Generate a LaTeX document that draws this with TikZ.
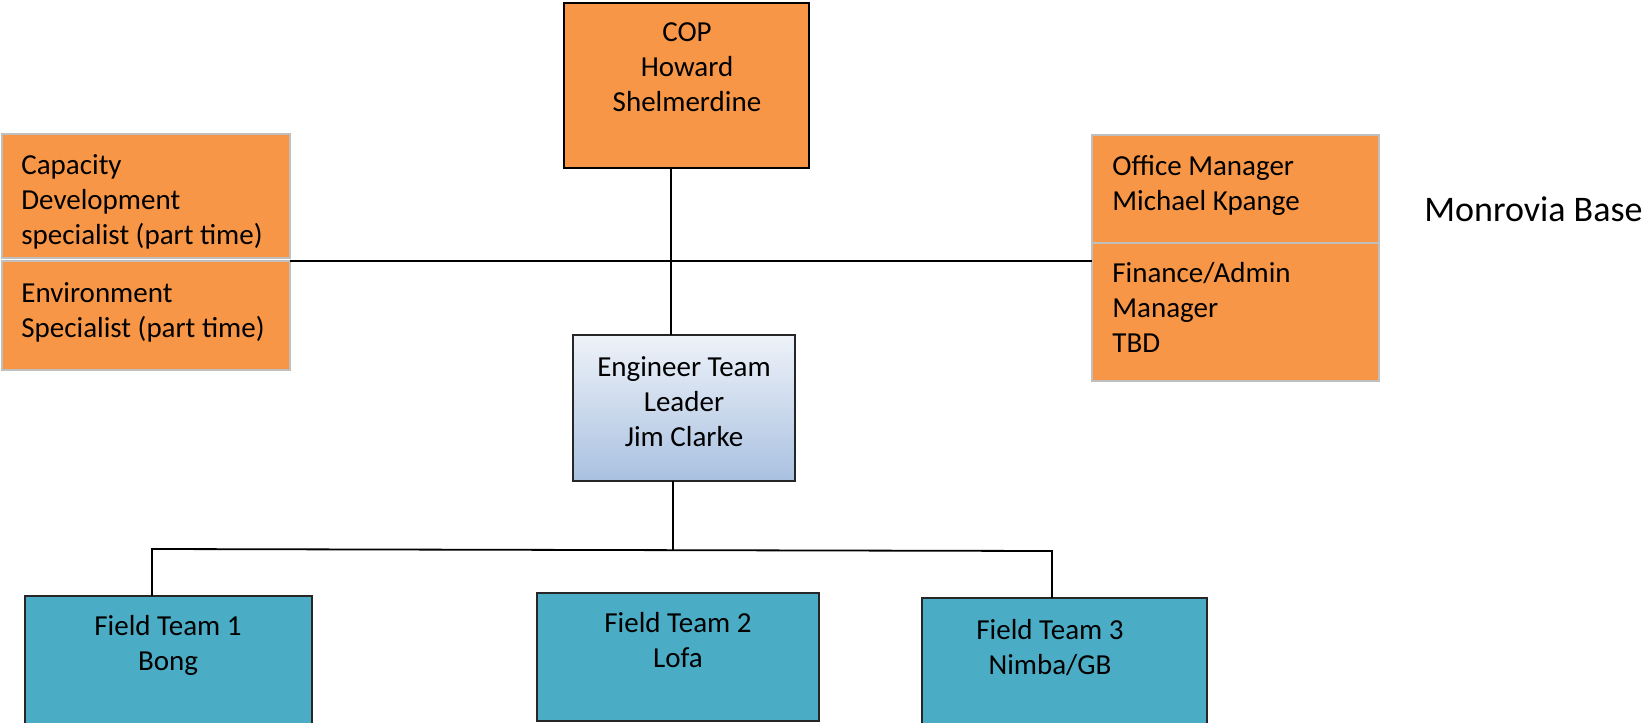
\documentclass[tikz,border=0pt]{standalone}
\usepackage{fontspec}
\setmainfont{Carlito}
\usetikzlibrary{fit}
\definecolor{orangefill}{HTML}{F79646}
\definecolor{tealfill}{HTML}{4BACC6}
\definecolor{greyedge}{HTML}{BFBFBF}
\definecolor{engtop}{HTML}{EEF2F9}
\definecolor{engbot}{HTML}{A9C1E0}
\begin{document}
\begin{tikzpicture}[x=0.5pt,y=-0.5pt,
  box/.style={inner sep=0pt, outer sep=0pt, line width=1pt},
  copbox/.style={box, draw=black, fill=orangefill},
  staffbox/.style={box, draw=greyedge, fill=orangefill},
  engbox/.style={box, draw=black!85, top color=engtop, bottom color=engbot},
  fieldbox/.style={box, draw=black!85, fill=tealfill},
  txt/.style={inner sep=0pt, anchor=north, align=center, font=\fontsize{14.5}{17.5}\selectfont},
  txtl/.style={inner sep=0pt, anchor=north west, align=left, font=\fontsize{14.5}{17.5}\selectfont},
  link/.style={line width=0.9pt, draw=black}]
\useasboundingbox (0,0) rectangle (1651,723);
\clip (0,0) rectangle (1651,723);
\fill[white] (0,0) rectangle (1651,723);

% boxes
\node[copbox, fit={(564,3)(809,168)}] (cop) {};
\node[staffbox, fit={(2,134)(290,258)}] (cap) {};
\node[staffbox, fit={(2,261)(290,370)}] (env) {};
\node[staffbox, fit={(1092,135)(1379,243)}] (off) {};
\node[staffbox, fit={(1092,243)(1379,381)}] (fin) {};
\node[engbox, fit={(573,335)(795,481)}] (eng) {};
\node[fieldbox, fit={(25,596)(312,735)}] (ft1) {};
\node[fieldbox, fit={(537,593)(819,721)}] (ft2) {};
\node[fieldbox, fit={(922,598)(1207,735)}] (ft3) {};

% box texts
\node[txt] (copt) at (687,22) {COP\\Howard\\Shelmerdine};
\node[txtl] (capt) at (21,154) {Capacity\\Development\\specialist (part time)};
\node[txtl] (envt) at (21,282) {Environment\\Specialist (part time)};
\node[txtl] (offt) at (1112,155) {Office Manager\\Michael Kpange};
\node[txtl] (fint) at (1112,262) {Finance/Admin\\Manager\\TBD};
\node[txt] (engt) at (684,356) {Engineer Team\\Leader\\Jim Clarke};
\node[txt] (ft1t) at (168,615) {Field Team 1\\Bong};
\node[txt] (ft2t) at (678,612) {Field Team 2\\Lofa};
\node[txt] (ft3t) at (1050,619) {Field Team 3\\Nimba/GB};
\node[inner sep=0pt, anchor=west, font=\fontsize{18}{22}\selectfont] (base) at (1424,209) {Monrovia Base};

% connectors
\coordinate (j1) at (671,262);
\coordinate (j2) at (673,550);
\coordinate (j3) at (152,549);
\coordinate (j4) at (1052,551);
\draw[link] (j1 |- cop.south) -- (j1 |- eng.north);
\draw[link] (env.north east) -- (env.north east -| fin.west);
\draw[link] (j2 |- eng.south) -- (j2);
\draw[link] (j3 |- ft1.north) -- (j3) -- (j4) -- (j4 |- ft3.north);
\end{tikzpicture}
\end{document}
